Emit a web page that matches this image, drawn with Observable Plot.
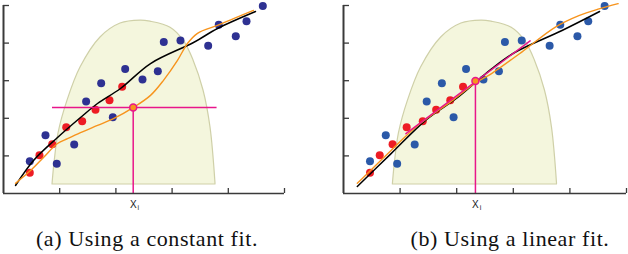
<!DOCTYPE html>
<html><head><meta charset="utf-8">
<script src="https://cdn.jsdelivr.net/npm/d3@7"></script>
<script src="https://cdn.jsdelivr.net/npm/@observablehq/plot@0.6"></script>
<style>
body{margin:0;background:#fff;width:628px;height:254px;overflow:hidden;position:relative}
.panel{position:absolute;top:0}
.cap{position:absolute;top:226px;font-family:"Liberation Serif","DejaVu Serif",serif;font-size:22px;letter-spacing:0.6px;color:#111;white-space:nowrap;text-align:center}
</style></head><body>
<div class="panel" id="pa" style="left:0"></div>
<div class="panel" id="pb" style="left:314px"></div>
<div class="cap" style="left:-3px;width:300px">(a) Using a constant fit.</div>
<div class="cap" style="left:360px;width:300px">(b) Using a linear fit.</div>
<script>
// ---- data ----
const xTicks = [1, 2, 3, 4, 5];
const yTicks = [1, 2, 3, 4, 5];
const redX = [0.468, 0.64, 0.867, 1.116, 1.40, 1.637, 1.886, 2.112];
const redY = [0.55, 1.02, 1.31, 1.76, 1.92, 2.23, 2.48, 2.84];
const blueX = [0.468, 0.747, 0.948, 1.258, 1.47, 1.738, 1.945, 2.165, 2.473, 2.746, 2.852, 3.149, 3.642, 3.83, 4.133, 4.324, 4.614];
const blueY = [0.86, 1.55, 0.79, 1.30, 2.45, 2.93, 2.03, 3.31, 3.03, 3.25, 4.03, 4.07, 3.93, 4.49, 4.18, 4.58, 4.99];
const kernelX = [0.872, 0.907, 0.979, 1.139, 1.370, 1.726, 2.082, 2.438, 2.616, 2.972, 3.203, 3.381, 3.559, 3.683, 3.772];
const kernelY = [0.24, 0.80, 1.60, 2.47, 3.35, 4.15, 4.52, 4.60, 4.57, 4.41, 4.07, 3.54, 2.74, 1.76, 0.27];
const kernelBase = 0.24;
const trueAX = [0.214, 0.534, 0.961, 1.370, 1.673, 2.082, 2.616, 3.381, 3.808, 4.484];
const trueAY = [0.213, 0.878, 1.489, 2.021, 2.394, 2.793, 3.457, 4.016, 4.388, 4.840];
const fitAX = [0.214, 0.480, 0.712, 0.961, 1.139, 1.370, 1.673, 1.957, 2.313, 2.616, 2.847, 3.096, 3.274, 3.452, 3.808, 4.093, 4.448];
const fitAY = [0.27, 0.61, 0.96, 1.33, 1.46, 1.62, 1.81, 1.99, 2.29, 2.61, 3.01, 3.54, 3.99, 4.26, 4.47, 4.65, 4.87];
const trueBX = [0.244, 0.836, 1.459, 2.023, 2.616, 3.025, 3.861, 4.525];
const trueBY = [0.186, 1.053, 1.960, 2.561, 3.316, 3.750, 4.335, 4.840];
const fitBX = [0.244, 0.836, 1.311, 1.904, 2.331, 2.616, 3.149, 3.737, 4.158, 4.514, 4.852];
const fitBY = [0.27, 1.14, 1.81, 2.45, 2.94, 3.19, 3.76, 4.42, 4.73, 4.91, 5.05];
const constFitX = [0.872, 3.80];   // horizontal constant fit (a)
const constFitY = 2.29;
const xiA = 2.308;
const lineFitX = [1.103, 3.297];   // local linear fit (b)
const lineFitY = [1.59, 4.06];
const xiB = 2.331, yiB = 2.99;

// ---- helpers ----
const zip = (xs, ys) => xs.map((x, i) => ({x, y: ys[i]}));
const C = {red: "#ed1c24", orange: "#f7941d", pink: "#e8168a", fill: "#f4f6dd", fillStroke: "#cfd0a8", axis: "#3a3a3a"};

function panel({blue, trueX, trueY, fitX, fitY, overlay, xi, ml, mr}) {
  return Plot.plot({
    width: 314, height: 212,
    marginLeft: ml, marginRight: mr, marginTop: 5, marginBottom: 19,
    x: {domain: [0, 5], axis: null},
    y: {domain: [0, 5], axis: null},
    style: {background: "transparent", overflow: "visible"},
    marks: [
      Plot.areaY(zip(kernelX, kernelY), {x: "x", y1: kernelBase, y2: "y", fill: C.fill, stroke: C.fillStroke, strokeWidth: 1.2, curve: "catmull-rom"}),
      Plot.dot(zip(redX, redY), {x: "x", y: "y", r: 4, fill: C.red}),
      Plot.dot(zip(blueX, blueY), {x: "x", y: "y", r: 4, fill: blue}),
      Plot.line(zip(trueX, trueY), {x: "x", y: "y", stroke: "#000", strokeWidth: 1.5, curve: "catmull-rom"}),
      Plot.line(zip(fitX, fitY), {x: "x", y: "y", stroke: C.orange, strokeWidth: 1.4, curve: "catmull-rom"}),
      ...overlay,
      Plot.ruleY([0], {stroke: C.axis, strokeWidth: 1.6}),
      Plot.ruleX([0], {stroke: C.axis, strokeWidth: 2}),
      Plot.axisY(yTicks, {tickSize: 6, dx: 6, tickFormat: () => "", stroke: C.axis, strokeWidth: 1.3, label: null}),
      Plot.axisX(xTicks, {tickSize: 5, dy: -5, tickFormat: () => "", stroke: C.axis, strokeWidth: 1.3, label: null}),
      Plot.text([xi], {x: d => d, y: 0, text: () => "X", dy: 11, fontSize: 10, fill: "#222", fontFamily: "Liberation Sans, Arial, sans-serif"}),
      Plot.text([xi], {x: d => d, y: 0, text: () => "i", dx: 5, dy: 14, fontSize: 7, fill: "#222", fontFamily: "Liberation Sans, Arial, sans-serif"})
    ]
  });
}

const overlayA = [
  Plot.ruleY([constFitY], {x1: constFitX[0], x2: constFitX[1], stroke: C.pink, strokeWidth: 1.5}),
  Plot.ruleX([xiA], {y1: 0, y2: constFitY, stroke: C.pink, strokeWidth: 1.5}),
  Plot.dot([{x: xiA, y: constFitY}], {x: "x", y: "y", r: 3.5, fill: C.orange, stroke: C.pink, strokeWidth: 1.5})
];
const overlayB = [
  Plot.line(zip(lineFitX, lineFitY), {x: "x", y: "y", stroke: C.pink, strokeWidth: 1.5}),
  Plot.ruleX([xiB], {y1: 0, y2: yiB, stroke: C.pink, strokeWidth: 1.5}),
  Plot.dot([{x: xiB, y: yiB}], {x: "x", y: "y", r: 3.5, fill: C.orange, stroke: C.pink, strokeWidth: 1.5})
];

document.getElementById("pa").append(panel({blue: "#2e3192", trueX: trueAX, trueY: trueAY, fitX: fitAX, fitY: fitAY, overlay: overlayA, xi: xiA, ml: 3, mr: 30}));
document.getElementById("pb").append(panel({blue: "#2b59a8", trueX: trueBX, trueY: trueBY, fitX: fitBX, fitY: fitBY, overlay: overlayB, xi: xiB, ml: 29, mr: 2}));
</script>
</body></html>
